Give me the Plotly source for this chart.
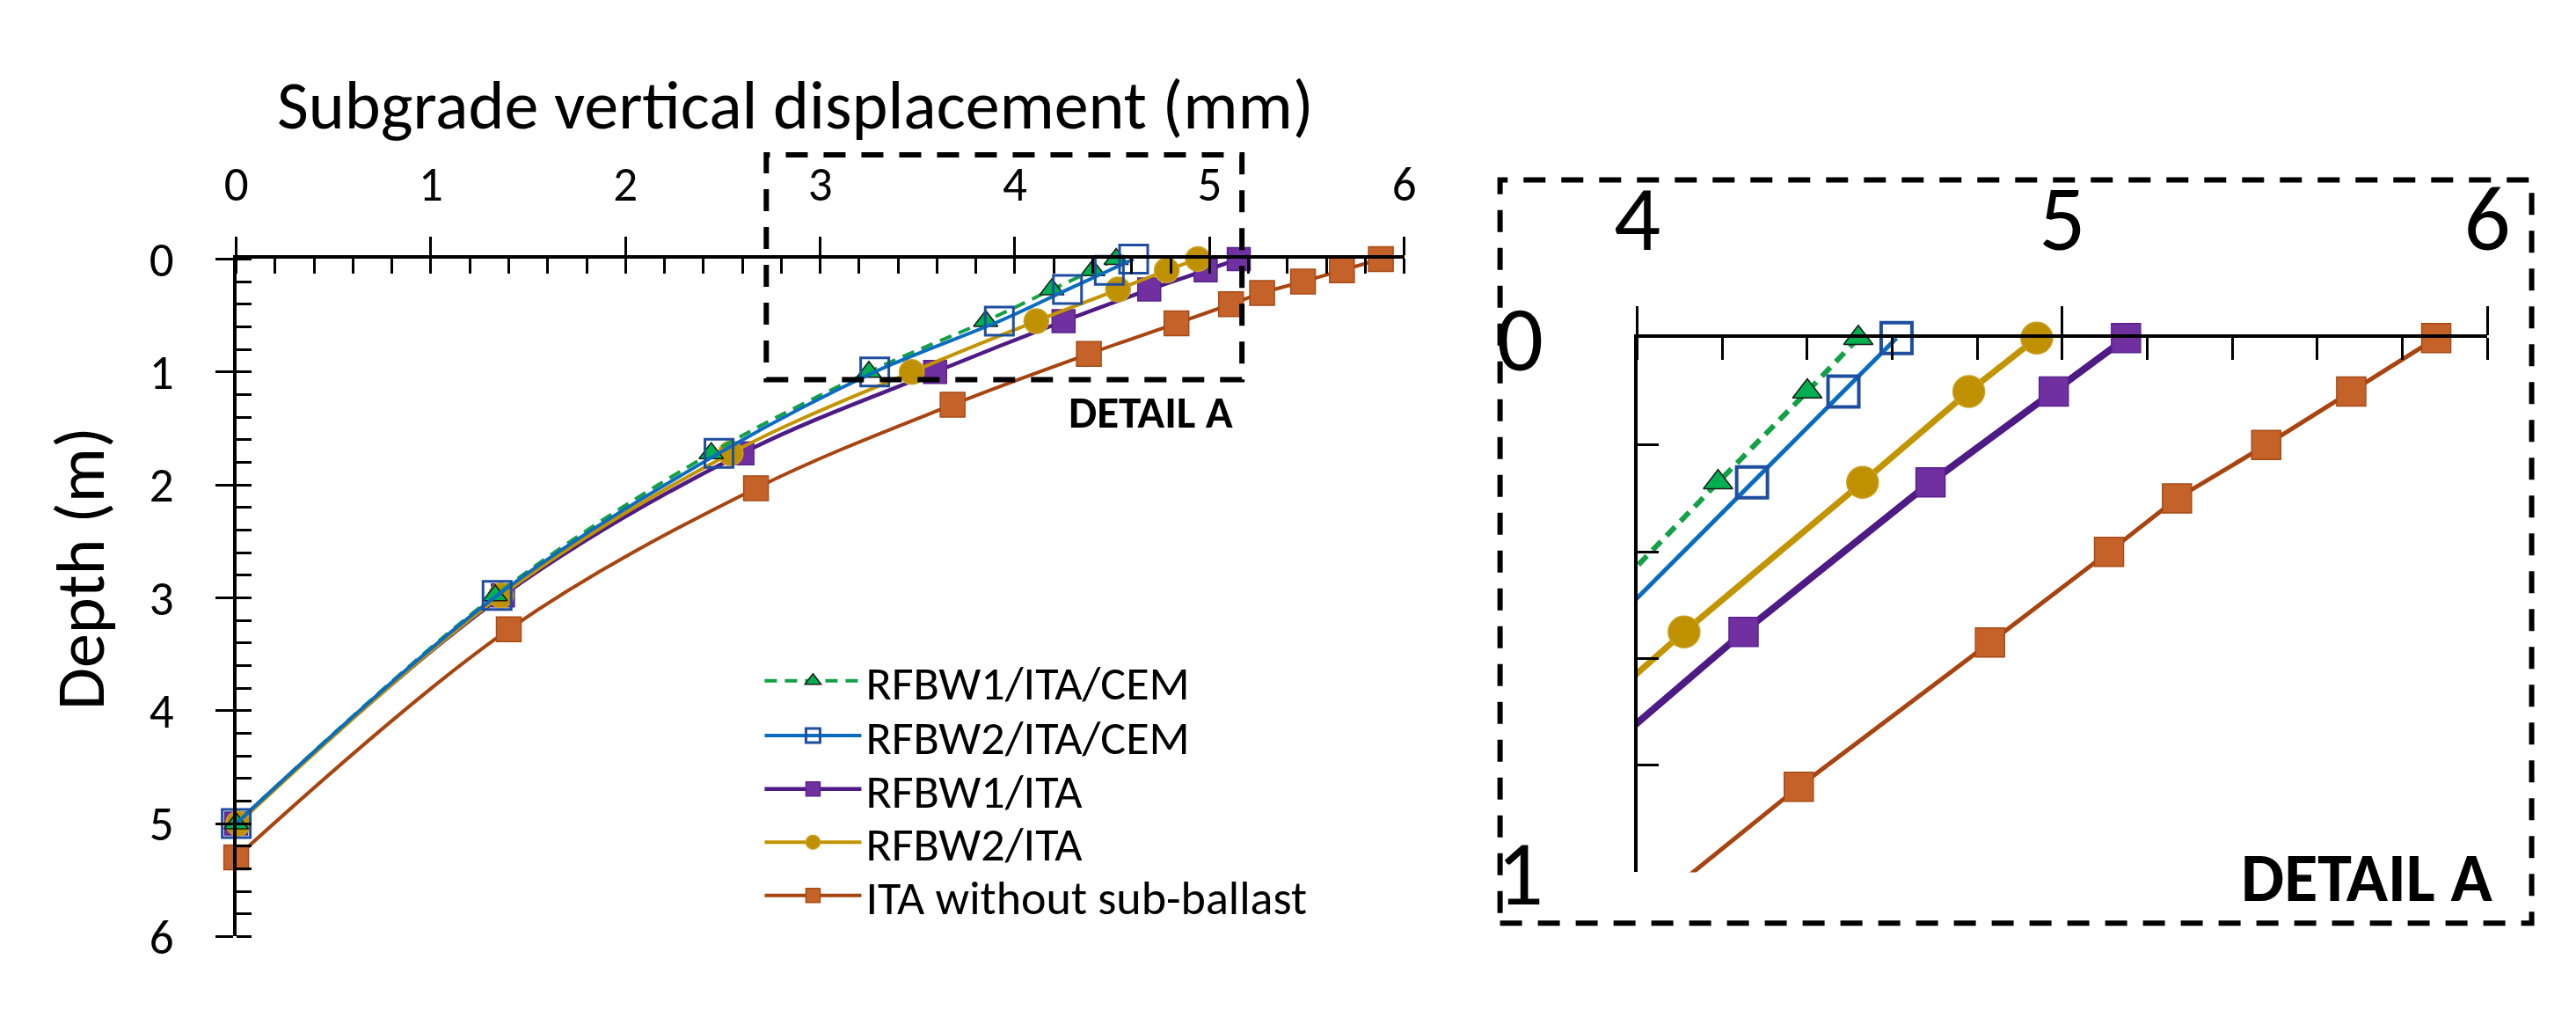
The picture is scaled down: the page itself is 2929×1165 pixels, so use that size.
import numpy as np
import plotly.graph_objects as go

W, H = 2929, 1165
FONT = "Carlito, Lato, sans-serif"

# ---------------- data ----------------
series_names = ["RFBW1/ITA/CEM", "RFBW2/ITA/CEM", "RFBW1/ITA", "RFBW2/ITA", "ITA without sub-ballast"]

depth_rfbw = [0.0, 0.1, 0.27, 0.55, 1.0, 1.72, 2.98, 5.0]
depth_ita = [0.0, 0.1, 0.2, 0.3, 0.4, 0.57, 0.84, 1.29, 2.03, 3.28, 5.30]

disp_rfbw1_cem = [4.52, 4.40, 4.19, 3.85, 3.25, 2.44, 1.33, 0.0]
disp_rfbw2_cem = [4.61, 4.485, 4.27, 3.92, 3.28, 2.48, 1.34, 0.0]
disp_rfbw1_ita = [5.15, 4.98, 4.69, 4.25, 3.59, 2.60, 1.37, 0.0]
disp_rfbw2_ita = [4.94, 4.78, 4.53, 4.11, 3.47, 2.54, 1.36, 0.01]
disp_ita_nosb = [5.88, 5.68, 5.48, 5.27, 5.11, 4.83, 4.38, 3.68, 2.67, 1.40, 0.0]

x_ticks_main = [0, 1, 2, 3, 4, 5, 6]
y_ticks_main = [0, 1, 2, 3, 4, 5, 6]
x_ticks_detail = [4, 5, 6]
y_ticks_detail = [0, 1]

# ---------------- styles ----------------
styles = {
    "RFBW1/ITA/CEM": dict(x=disp_rfbw1_cem, y=depth_rfbw, line="#14A046", dash="14px,9px",
                          symbol="triangle-up", fill="#00B050", edge="#1a1a1a", edgew=1.5,
                          ms=24, msd=29, lw=4, lwd=6, slot=0),
    "RFBW2/ITA/CEM": dict(x=disp_rfbw2_cem, y=depth_rfbw, line="#0A6CC0", dash="solid",
                          symbol="square-open", fill="#1F4E9F", edge="#1F4E9F", edgew=3,
                          ms=32, msd=35, lw=4, lwd=5, slot=1),
    "RFBW1/ITA": dict(x=disp_rfbw1_ita, y=depth_rfbw, line="#4E1A86", dash="solid",
                      symbol="square", fill="#7030A0", edge="#5A2090", edgew=1.5,
                      ms=26, msd=33, lw=4.5, lwd=8, slot=2),
    "RFBW2/ITA": dict(x=disp_rfbw2_ita, y=depth_rfbw, line="#C29400", dash="solid",
                      symbol="circle", fill="#BF9000", edge="#C9A227", edgew=1.5,
                      ms=28, msd=36, lw=4, lwd=7, slot=3),
    "ITA without sub-ballast": dict(x=disp_ita_nosb, y=depth_ita, line="#A8440F", dash="solid",
                                    symbol="square", fill="#C5622A", edge="#A84A14", edgew=1.5,
                                    ms=28, msd=33, lw=4, lwd=5, slot=4),
}
draw_order = ["ITA without sub-ballast", "RFBW1/ITA", "RFBW2/ITA", "RFBW1/ITA/CEM", "RFBW2/ITA/CEM"]

legend_ids = ["legend", "legend2", "legend3", "legend4", "legend5"]
legend_rows_px = [790, 860, 928, 996, 1064]   # vertical centre of each legend row (pixels from top)

fig = go.Figure()

for name in draw_order:
    s = styles[name]
    # main chart
    fig.add_trace(go.Scatter(
        x=s["x"], y=s["y"], name=name, mode="lines+markers",
        line=dict(color=s["line"], width=s["lw"], dash=s["dash"], shape="spline", smoothing=1.0),
        marker=dict(symbol=s["symbol"], size=s["ms"], color=s["fill"],
                    line=dict(color=s["edge"], width=s["edgew"])),
        cliponaxis=False, legend=legend_ids[s["slot"]], xaxis="x", yaxis="y",
    ))
    # detail: lines (clipped to window)
    fig.add_trace(go.Scatter(
        x=s["x"], y=s["y"], mode="lines", showlegend=False, hoverinfo="skip",
        line=dict(color=s["line"], width=s["lwd"], dash=s["dash"]),
        xaxis="x2", yaxis="y2",
    ))
    # detail: markers inside the window
    xa = np.array(s["x"]); ya = np.array(s["y"])
    m = (xa >= 4) & (xa <= 6) & (ya >= 0) & (ya <= 1)
    fig.add_trace(go.Scatter(
        x=xa[m], y=ya[m], mode="markers", showlegend=False,
        marker=dict(symbol=s["symbol"], size=s["msd"], color=s["fill"],
                    line=dict(color=s["edge"], width=s["edgew"] + (1 if s["symbol"] == "square-open" else 0))),
        cliponaxis=False, xaxis="x2", yaxis="y2",
    ))

main_dx = [238 / W, 1591 / W]
main_dy = [1 - 1116 / H, 1 - 251 / H]
det_dx = [1861 / W, 2845.5 / W]
det_dy = [1 - 1034 / H, 1 - 352 / H]

tickfont_main = dict(family=FONT, size=55, color="black")
tickfont_det = dict(family=FONT, size=105, color="black")

layout_legends = {}
for lid, ypx in zip(legend_ids, legend_rows_px):
    layout_legends[lid] = dict(x=845 / W, y=1 - ypx / H, xanchor="left", yanchor="middle",
                               font=dict(family=FONT, size=54, color="black"),
                               bgcolor="rgba(0,0,0,0)", itemwidth=110, borderwidth=0)

fig.update_layout(
    width=W, height=H, autosize=False,
    margin=dict(l=0, r=0, t=0, b=0),
    paper_bgcolor="white", plot_bgcolor="rgba(0,0,0,0)",
    font=dict(family=FONT, color="black"),
    showlegend=True,
    **layout_legends,
    xaxis=dict(domain=main_dx, range=[0, 6], side="top", anchor="y",
               showline=True, linecolor="black", linewidth=4, showgrid=False, zeroline=False,
               tickvals=x_ticks_main, ticks="outside", ticklen=21, tickwidth=3, tickcolor="black",
               tickfont=tickfont_main, ticklabelstandoff=19,
               minor=dict(dtick=0.2, tick0=0, ticks="inside", ticklen=17, tickwidth=3, tickcolor="black")),
    yaxis=dict(domain=main_dy, range=[6, 0], anchor="x", side="left",
               showline=True, linecolor="black", linewidth=4, showgrid=False, zeroline=False,
               tickvals=y_ticks_main, ticks="outside", ticklen=20, tickwidth=3, tickcolor="black",
               tickfont=tickfont_main, ticklabelstandoff=36,
               minor=dict(dtick=0.2, tick0=0, ticks="inside", ticklen=17, tickwidth=3, tickcolor="black")),
    xaxis3=dict(overlaying="x", anchor="y", side="top", range=[0, 6], showline=False, showgrid=False,
                zeroline=False, tickvals=x_ticks_main, ticks="inside", ticklen=21, tickwidth=3,
                tickcolor="black", showticklabels=False),
    yaxis3=dict(overlaying="y", anchor="x", side="left", range=[6, 0], showline=False, showgrid=False,
                zeroline=False, tickvals=y_ticks_main, ticks="inside", ticklen=17, tickwidth=3,
                tickcolor="black", showticklabels=False),
    xaxis2=dict(domain=det_dx, range=[4, 6], side="top", anchor="y2",
                showline=True, linecolor="black", linewidth=3.5, showgrid=False, zeroline=False,
                tickvals=x_ticks_detail, ticks="outside", ticklen=33, tickwidth=3, tickcolor="black",
                tickfont=tickfont_det, ticklabelstandoff=22,
                minor=dict(dtick=0.2, tick0=4, ticks="inside", ticklen=25, tickwidth=3, tickcolor="black")),
    yaxis2=dict(domain=det_dy, range=[1, 0], anchor="x2", side="left",
                showline=True, linecolor="black", linewidth=3.5, showgrid=False, zeroline=False,
                tickvals=y_ticks_detail, ticks="inside", ticklen=25, tickwidth=3, tickcolor="black",
                tickfont=tickfont_det, ticklabelstandoff=82,
                minor=dict(dtick=0.2, tick0=0, ticks="inside", ticklen=25, tickwidth=3, tickcolor="black")),
    xaxis4=dict(overlaying="x2", anchor="y2", side="top", range=[4, 6], showline=False, showgrid=False,
                zeroline=False, tickvals=x_ticks_detail, ticks="inside", ticklen=33, tickwidth=3,
                tickcolor="black", showticklabels=False),
)

# dashed frames (paper coordinates)
box_main = dict(x0=852 / W, x1=1403 / W, y0=1 - 405 / H, y1=1 - 118 / H)
box_detail = dict(x0=1702 / W, x1=2897 / W, y0=1 - 1099 / H, y1=1 - 150 / H)
for b in (box_main, box_detail):
    fig.add_shape(type="rect", xref="paper", yref="paper", **b,
                  line=dict(color="black", width=6, dash="25px,18px"), fillcolor="rgba(0,0,0,0)")

fig.add_annotation(text="Subgrade vertical displacement (mm)", xref="paper", yref="paper",
                   x=886 / W, y=1 - 55 / H, xanchor="center", yanchor="middle", showarrow=False,
                   font=dict(family=FONT, size=78, color="black"))
fig.add_annotation(text="Depth (m)", xref="paper", yref="paper", textangle=-90,
                   x=57 / W, y=1 - 646 / H, xanchor="center", yanchor="middle", showarrow=False,
                   font=dict(family=FONT, size=78, color="black"))
fig.add_annotation(text="<b>DETAIL A</b>", xref="paper", yref="paper",
                   x=1297 / W, y=1 - 447 / H, xanchor="center", yanchor="middle", showarrow=False,
                   font=dict(family=FONT, size=51, color="black"))
fig.add_annotation(text="<b>DETAIL A</b>", xref="paper", yref="paper",
                   x=2706 / W, y=1 - 1041 / H, xanchor="center", yanchor="middle", showarrow=False,
                   font=dict(family=FONT, size=78, color="black"))

fig.write_html("out.html")
